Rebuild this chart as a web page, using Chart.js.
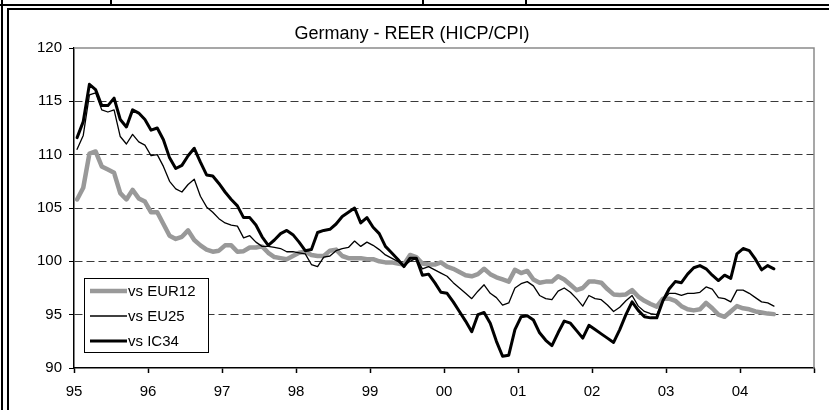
<!DOCTYPE html>
<html>
<head>
<meta charset="utf-8">
<script src="https://cdn.jsdelivr.net/npm/chart.js@4.4.0/dist/chart.umd.min.js"></script>
<style>
  body { margin: 0; background: #fff; }
  #wrap { position: relative; width: 829px; height: 410px; overflow: hidden; }
  #wrap canvas { position: absolute; left: 0; top: 0; }
  .ln { position: absolute; background: #000; }
</style>
</head>
<body>
<div id="wrap">
  <canvas id="chart" width="829" height="410"></canvas>
  <!-- table rules around the pasted chart -->
  <div class="ln" style="left:0;top:4px;width:829px;height:2px"></div>
  <div class="ln" style="left:7px;top:8px;width:822px;height:2px"></div>
  <div class="ln" style="left:1px;top:0;width:2px;height:410px"></div>
  <div class="ln" style="left:7px;top:8px;width:2px;height:402px"></div>
  <div class="ln" style="left:110px;top:0;width:2px;height:5px"></div>
  <div class="ln" style="left:422px;top:0;width:2px;height:5px"></div>
  <div class="ln" style="left:525px;top:0;width:2px;height:5px"></div>
</div>
<script>
// monthly values, Jan 1995 .. Jun 2004
const eur12 = [
  105.8, 106.9, 110.1, 110.3, 108.9, 108.6, 108.3, 106.4, 105.8, 106.7, 105.9, 105.6,
  104.6, 104.6, 103.5, 102.4, 102.1, 102.3, 102.9, 102.0, 101.5, 101.1, 100.9, 101.0,
  101.5, 101.5, 100.9, 100.95, 101.3, 101.3, 101.4, 100.8, 100.4, 100.3, 100.2, 100.5,
  100.8, 100.9, 100.6, 100.5, 100.5, 101.0, 101.1, 100.5, 100.3, 100.3, 100.3, 100.2,
  100.2, 100.0, 99.9, 99.9, 99.8, 99.7, 100.6, 100.4, 99.8, 99.7, 99.7, 99.9,
  99.5, 99.3, 99.0, 98.7, 98.6, 98.8, 99.3, 98.8, 98.5, 98.3, 98.1, 99.2,
  98.9, 99.1, 98.3, 98.0, 98.1, 98.1, 98.6, 98.3, 97.8, 97.3, 97.5, 98.1,
  98.1, 98.0, 97.4, 96.9, 96.85, 96.9, 97.3, 96.7, 96.3, 96.0, 95.75, 96.5,
  96.5, 96.3, 95.8, 95.5, 95.4, 95.5, 96.1, 95.6, 95.0, 94.8, 95.3, 95.8,
  95.6, 95.5, 95.3, 95.2, 95.1, 95.05
]
const eu25 = [
  110.5, 111.8, 115.6, 115.8, 114.2, 114.0, 114.2, 111.7, 111.0, 111.9, 111.2, 110.9,
  109.9, 110.0, 108.9, 107.5, 106.8, 106.5, 107.2, 107.7, 106.1, 105.1, 104.6, 104.0,
  103.6, 103.4, 103.3, 102.2, 102.4, 101.8, 101.4, 101.4, 101.3, 101.2, 100.9, 100.9,
  100.8, 100.7, 99.7, 99.5, 100.4, 100.5, 101.0, 101.2, 101.3, 101.9, 101.4, 101.8,
  101.5, 101.1, 100.6, 100.3, 100.0, 99.6, 100.0, 100.3, 99.3, 99.5, 99.2, 98.9,
  98.6, 98.0, 97.5, 97.0, 96.5, 97.2, 97.8, 97.0, 96.6, 95.9, 96.1, 97.5,
  97.9, 98.1, 97.7, 96.8, 96.5, 96.4, 97.2, 97.5, 97.1, 96.5, 95.8, 96.8,
  96.5, 96.4, 95.9, 95.3, 95.7, 96.3, 96.8, 95.8, 95.3, 95.1, 95.0, 96.3,
  97.0, 97.0, 96.8, 97.0, 97.0, 97.1, 97.6, 97.4, 96.6, 96.5, 96.2, 97.3,
  97.3, 97.0, 96.6, 96.2, 96.1, 95.8
]
const ic34 = [
  111.6, 113.1, 116.6, 116.1, 114.6, 114.6, 115.3, 113.3, 112.6, 114.2, 113.9, 113.3,
  112.3, 112.5, 111.4, 109.7, 108.7, 109.0, 109.9, 110.6, 109.3, 108.1, 108.0, 107.3,
  106.5, 105.8, 105.2, 104.1, 104.1, 103.4, 102.3, 101.5, 102.0, 102.6, 102.9, 102.5,
  101.8, 101.0, 101.1, 102.7, 102.9, 103.0, 103.5, 104.2, 104.6, 105.0, 103.6, 104.1,
  103.2, 102.6, 101.4, 100.8, 100.2, 99.5, 100.3, 100.3, 98.7, 98.8, 98.0, 97.1,
  97.0, 96.2, 95.3, 94.4, 93.4, 95.0, 95.2, 94.2, 92.5, 91.1, 91.2, 93.6,
  94.8, 94.9, 94.5, 93.3, 92.6, 92.1, 93.3, 94.4, 94.2, 93.5, 92.8, 94.0,
  93.6, 93.2, 92.8, 92.4, 93.6, 95.0, 96.2, 95.4, 94.8, 94.7, 94.7, 96.3,
  97.4, 98.1, 98.0, 98.8, 99.4, 99.6, 99.3, 98.7, 98.2, 98.7, 98.4, 100.7,
  101.2, 101.0, 100.2, 99.2, 99.6, 99.3
]
const firstYear = 1995
const yearLabels = ['95', '96', '97', '98', '99', '00', '01', '02', '03', '04']
const seriesNames = ['vs EUR12', 'vs EU25', 'vs IC34']

// each month sits in the middle of its slot on the year axis
const toPoints = arr => arr.map((v, i) => ({ x: firstYear + (i + 0.5) / 12, y: v }))

const FONT = 'Liberation Sans, Arial, sans-serif'

// grey plot-area border (top/right) and the boxed legend inside the plot
const extras = {
    id: 'extras',
    afterDatasetsDraw(chart) {
        const { ctx, chartArea: a } = chart
        ctx.save()
        ctx.strokeStyle = '#8a8a8a'
        ctx.lineWidth = 1.5
        ctx.beginPath()
        ctx.moveTo(a.left, a.top)
        ctx.lineTo(a.right, a.top)
        ctx.lineTo(a.right, a.bottom)
        ctx.stroke()

        // legend
        const bx = a.left + 10, by = a.top + 230, bw = 124, bh = 74
        ctx.fillStyle = '#fff'
        ctx.fillRect(bx, by, bw, bh)
        ctx.strokeStyle = '#000'
        ctx.lineWidth = 1
        ctx.strokeRect(bx + 0.5, by + 0.5, bw, bh)
        ctx.font = '15px ' + FONT
        ctx.textBaseline = 'middle'
        ctx.textAlign = 'left'
        chart.data.datasets.forEach((ds, k) => {
            const y = by + 13 + k * 25
            ctx.strokeStyle = ds.borderColor
            ctx.lineWidth = ds.borderWidth
            ctx.beginPath()
            ctx.moveTo(bx + 6, y)
            ctx.lineTo(bx + 43, y)
            ctx.stroke()
            ctx.fillStyle = '#000'
            ctx.fillText(ds.label, bx + 44, y + 1)
        })
        ctx.restore()
    },
}

const chart = new Chart(document.getElementById('chart'), {
    type: 'line',
    data: {
        datasets: [
            { label: seriesNames[0], data: toPoints(eur12), borderColor: '#999999', borderWidth: 4.5, order: 2 },
            { label: seriesNames[1], data: toPoints(eu25), borderColor: '#000000', borderWidth: 1.3, order: 1 },
            { label: seriesNames[2], data: toPoints(ic34), borderColor: '#000000', borderWidth: 3, order: 0 },
        ],
    },
    options: {
        responsive: false,
        animation: false,
        layout: { padding: { left: 10, right: 15, top: 0, bottom: 0 } },
        elements: {
            point: { radius: 0 },
            line: { tension: 0, fill: false, borderJoinStyle: 'round', borderCapStyle: 'round' },
        },
        plugins: {
            legend: { display: false },
            tooltip: { enabled: false },
            title: {
                display: true,
                text: 'Germany - REER (HICP/CPI)',
                color: '#000',
                font: { family: FONT, size: 18, weight: 'normal' },
                padding: { top: 23, bottom: 3.4 },
            },
        },
        scales: {
            x: {
                type: 'linear',
                min: firstYear,
                max: firstYear + 10,
                afterFit: s => { s.height = 42 },
                border: { color: '#000', width: 1.5 },
                grid: { drawOnChartArea: false, tickLength: 5, tickColor: '#000', tickWidth: 1.5 },
                ticks: {
                    stepSize: 1,
                    autoSkip: false,
                    maxRotation: 0,
                    padding: 10,
                    color: '#000',
                    font: { family: FONT, size: 15 },
                    callback: v => yearLabels[v - firstYear] ?? '',
                },
            },
            y: {
                min: 90,
                max: 120,
                afterFit: s => { s.width = 64 },
                border: { color: '#000', width: 1.5, dash: [8, 4] },
                grid: {
                    color: c => (c.tick && (c.tick.value === 90 || c.tick.value === 120) ? 'rgba(0,0,0,0)' : '#3a3a3a'),
                    lineWidth: 1,
                    tickLength: 5,
                    tickColor: '#000',
                    tickBorderDash: [],
                },
                ticks: {
                    stepSize: 5,
                    padding: 7,
                    color: '#000',
                    font: { family: FONT, size: 15 },
                },
            },
        },
    },
    plugins: [extras],
})
</script>
</body>
</html>
